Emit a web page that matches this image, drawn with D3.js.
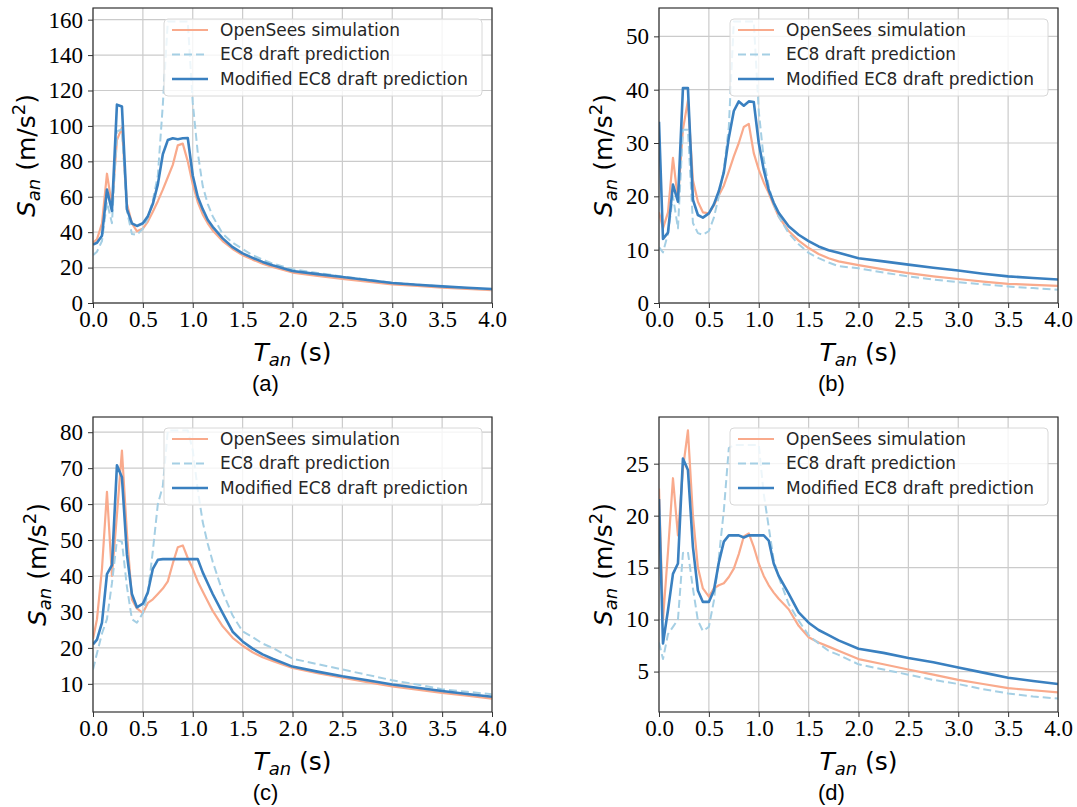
<!DOCTYPE html>
<html>
<head>
<meta charset="utf-8">
<script src="https://cdn.jsdelivr.net/npm/d3@7"></script>
<style>
  body { margin: 0; background: #fff; }
</style>
</head>
<body>
<div id="figure"></div>
<script>

// periods (s), shared by every curve
var periods = [0, 0.04, 0.09, 0.14, 0.19, 0.24, 0.29, 0.34, 0.39, 0.44,
  0.5, 0.55, 0.6, 0.65, 0.7, 0.75, 0.8, 0.85, 0.9, 0.95,
  1.0, 1.05, 1.1, 1.15, 1.2, 1.3, 1.4, 1.5, 1.6, 1.7,
  1.8, 2.0, 2.25, 2.5, 2.75, 3.0, 3.25, 3.5, 3.75, 4.0];

// (a)
var openSeesA = [34, 36, 45, 73, 55, 92, 99, 56, 45, 40.5,
  42, 46, 51.5, 57.5, 64, 71, 78, 89, 90, 80,
  67, 57, 50, 45, 41, 35, 30.5, 27, 24.5, 22.2,
  20.3, 17.2, 15.3, 13.6, 12, 10.5, 9.6, 8.7, 8, 7.3];
var ec8A = [27, 29, 35, 57, 45, 97, 98, 52, 39, 38.5,
  42, 48, 58, 72, 112, 159, 159, 159, 159, 159,
  113, 85, 66, 56, 49, 39, 34, 30.5, 27, 24.5,
  22.3, 19, 17, 15, 13.2, 11.5, 10.4, 9.3, 8.4, 7.5];
var modifiedA = [33, 34, 38, 64, 52, 112, 111, 53, 45, 43.5,
  45, 49, 56, 67, 84, 92, 93, 92.5, 93, 93.2,
  72, 60, 53, 47, 43, 36.5, 31.5, 28, 25.5, 23.2,
  21.3, 18.1, 16.3, 14.7, 13, 11.3, 10.3, 9.4, 8.6, 7.9];

// (b)
var openSeesB = [17, 14, 17, 27.2, 19.4, 32.5, 38, 23, 19, 17,
  16.8, 18.3, 20.2, 22, 24.7, 27.5, 30, 33, 33.6, 28.1,
  25, 22.6, 20.6, 18.3, 16.2, 13.5, 11.7, 10.3, 9.2, 8.4,
  7.8, 7.1, 6.3, 5.6, 5.0, 4.5, 4.0, 3.6, 3.4, 3.2];
var ec8B = [10.5, 9.5, 13, 20, 14, 32.5, 32.5, 15, 13.1, 12.8,
  13.5, 16, 20, 25, 33, 52.8, 52.8, 52.8, 52.8, 52.8,
  36, 27, 21.9, 18.5, 16.2, 13.1, 11, 9.4, 8.4, 7.6,
  6.9, 6.5, 5.7, 5.0, 4.4, 3.9, 3.5, 3.1, 2.8, 2.5];
var modifiedB = [34, 12, 13.2, 22.2, 19, 40.3, 40.3, 19.4, 16.5, 16,
  16.8, 18.5, 21, 24.5, 31, 36, 37.8, 37, 37.8, 37.7,
  30, 25, 21.2, 18.8, 16.9, 14.4, 12.8, 11.6, 10.6, 9.9,
  9.4, 8.4, 7.8, 7.2, 6.6, 6.1, 5.5, 5.0, 4.7, 4.4];

// (c)
var openSeesC = [22.5, 28, 42, 63.4, 40, 57, 74.9, 52, 33.5, 31,
  29.7, 32.5, 33.5, 35, 36.5, 38.5, 43.5, 48, 48.5, 45,
  42, 38.5, 35.7, 33, 30.3, 26, 22.8, 20.6, 18.8, 17.4,
  16.4, 14.4, 13, 11.7, 10.5, 9.3, 8.4, 7.5, 6.7, 5.9];
var ec8C = [14, 18.5, 24, 28, 38, 50, 49.5, 37, 28, 27,
  29.7, 35.2, 47, 60, 65, 80.5, 80.5, 80.5, 80.5, 80.5,
  75, 64, 55, 49, 44, 35.5, 29, 24.6, 23, 21.2,
  20, 17, 15.5, 14, 12.5, 11, 9.8, 8.5, 7.8, 7.1];
var modifiedC = [21, 22.3, 27, 40.5, 43, 70.8, 67.5, 46, 35, 31.3,
  32.3, 35.5, 42, 44.5, 44.7, 44.7, 44.7, 44.7, 44.7, 44.7,
  44.7, 44.7, 41, 38, 35, 29.7, 24.5, 21.8, 19.8, 18.2,
  17, 14.8, 13.4, 12.1, 11, 9.8, 8.9, 8.0, 7.2, 6.4];

// (d)
var openSeesD = [22.6, 10, 16.5, 23.6, 18.1, 24.5, 28.2, 20, 15, 13,
  12.2, 13, 13.3, 13.5, 14.1, 14.9, 16.3, 18, 18.3, 17,
  15.4, 14.2, 13.3, 12.6, 12, 11, 9.4, 8.3, 7.8, 7.4,
  7, 6.2, 5.7, 5.2, 4.7, 4.2, 3.8, 3.4, 3.2, 3.0];
var ec8D = [7.8, 6.2, 8.6, 9.3, 10, 16.4, 16.5, 13, 9.9, 8.9,
  9.3, 11.8, 16, 20.5, 26.5, 26.8, 26.8, 26.8, 26.8, 26.8,
  26.8, 22.1, 18.9, 15.7, 14.1, 11.5, 9.9, 8.5, 7.7, 7.0,
  6.6, 5.7, 5.2, 4.7, 4.2, 3.8, 3.3, 2.9, 2.6, 2.4];
var modifiedD = [21.6, 7.7, 10.9, 14.4, 15.4, 25.5, 24.4, 17, 12.8, 11.7,
  11.7, 12.8, 15.5, 17.5, 18.1, 18.1, 18.1, 17.9, 18.1, 18.1,
  18.1, 18.1, 17.6, 15.4, 14.2, 12.5, 10.7, 9.7, 9.0, 8.5,
  8.0, 7.2, 6.8, 6.3, 5.9, 5.4, 4.9, 4.4, 4.1, 3.8];

var xTicks = [0, 0.5, 1, 1.5, 2, 2.5, 3, 3.5, 4];
var yTicksA = [0, 20, 40, 60, 80, 100, 120, 140, 160];
var yTicksB = [0, 10, 20, 30, 40, 50];
var yTicksC = [10, 20, 30, 40, 50, 60, 70, 80];
var yTicksD = [5, 10, 15, 20, 25];

var seriesNames = ['OpenSees simulation', 'EC8 draft prediction', 'Modified EC8 draft prediction'];
var panelLabels = ['(a)', '(b)', '(c)', '(d)'];

var seriesStyle = [
  {color: '#f9aa8c', width: 2.2, dash: null},
  {color: '#a5cfe4', width: 2.0, dash: '8,4'},
  {color: '#3a80c0', width: 2.6, dash: null}
];

var SANS = "'DejaVu Sans'";
var SERIF = "'Liberation Serif'";
var ARIAL = "'Liberation Sans'";

var W = 1077, H = 807;
var plotW = 399, plotH = 295;

var svg = d3.select('#figure')
  .append('svg')
  .attr('width', W)
  .attr('height', H);

svg.append('rect').attr('width', W).attr('height', H).attr('fill', '#fff');

var panels = [
  {left: 93, top: 8, data: [openSeesA, ec8A, modifiedA], ticks: yTicksA, fromZero: true},
  {left: 659, top: 8, data: [openSeesB, ec8B, modifiedB], ticks: yTicksB, fromZero: true},
  {left: 93, top: 417, data: [openSeesC, ec8C, modifiedC], ticks: yTicksC, fromZero: false},
  {left: 659, top: 417, data: [openSeesD, ec8D, modifiedD], ticks: yTicksD, fromZero: false}
];

panels.forEach(function(p, k){ drawPanel(p, k); });

function font(sel, family, size){
  return sel.attr('font-family', family).attr('font-size', size)
    .style('font-family', family).style('font-size', size + 'px');
}

function drawPanel(p, k){

  var all = d3.merge(p.data);
  var lo = d3.min(all), hi = d3.max(all);
  var pad = 0.05 * (hi - lo);
  var y0 = p.fromZero ? 0 : lo - pad;

  var x = d3.scaleLinear().domain([0, 4]).range([0, plotW]);
  var y = d3.scaleLinear().domain([y0, hi + pad]).range([plotH, 0]);

  var g = svg.append('g')
    .attr('transform', 'translate(' + p.left + ',' + p.top + ')');

  g.append('clipPath')
    .attr('id', 'clip' + k)
    .append('rect')
    .attr('width', plotW)
    .attr('height', plotH);

  // grid
  g.selectAll('line.vgrid')
    .data(xTicks)
    .enter()
    .append('line')
    .attr('x1', function(d){ return x(d); })
    .attr('x2', function(d){ return x(d); })
    .attr('y1', 0)
    .attr('y2', plotH)
    .attr('stroke', '#cbcbcb')
    .attr('stroke-width', 1.2);

  g.selectAll('line.hgrid')
    .data(p.ticks)
    .enter()
    .append('line')
    .attr('x1', 0)
    .attr('x2', plotW)
    .attr('y1', function(d){ return y(d); })
    .attr('y2', function(d){ return y(d); })
    .attr('stroke', '#cbcbcb')
    .attr('stroke-width', 1.2);

  // curves
  var line = d3.line()
    .x(function(d, i){ return x(periods[i]); })
    .y(function(d){ return y(d); });

  var curves = g.append('g').attr('clip-path', 'url(#clip' + k + ')');
  p.data.forEach(function(values, s){
    curves.append('path')
      .datum(values)
      .attr('d', line)
      .attr('fill', 'none')
      .attr('stroke', seriesStyle[s].color)
      .attr('stroke-width', seriesStyle[s].width)
      .attr('stroke-dasharray', seriesStyle[s].dash)
      .attr('stroke-linejoin', 'round');
  });

  // axes
  var yAxis = g.append('g')
    .call(d3.axisLeft(y).tickValues(p.ticks).tickSize(5).tickPadding(5).tickFormat(d3.format('d')));
  var xAxis = g.append('g')
    .attr('transform', 'translate(0,' + plotH + ')')
    .call(d3.axisBottom(x).tickValues(xTicks).tickSize(5).tickPadding(3).tickFormat(d3.format('.1f')));

  [yAxis, xAxis].forEach(function(a){
    font(a, SERIF, 23);
    a.select('.domain').remove();
    a.selectAll('line').attr('stroke', '#333');
    font(a.selectAll('text'), SERIF, 23).attr('fill', '#000');
  });

  g.append('rect')
    .attr('width', plotW)
    .attr('height', plotH)
    .attr('fill', 'none')
    .attr('stroke', '#333')
    .attr('stroke-width', 1.2);

  // axis labels
  var xl = font(g.append('text'), SANS, 25)
    .attr('x', plotW / 2)
    .attr('y', plotH + 58)
    .attr('text-anchor', 'middle')
    .attr('fill', '#000');
  xl.append('tspan').text('T').attr('font-style', 'italic');
  xl.append('tspan').text('an').attr('font-style', 'italic').attr('font-size', 18).attr('dy', 5);
  xl.append('tspan').text(' (s)').attr('dy', -5);

  var left = yAxis.node().getBBox().x;
  var yl = font(g.append('text'), SANS, 25)
    .attr('transform', 'translate(' + (left - 14) + ',' + (plotH / 2) + ') rotate(-90)')
    .attr('text-anchor', 'middle')
    .attr('fill', '#000');
  yl.append('tspan').text('S').attr('font-style', 'italic');
  yl.append('tspan').text('an').attr('font-style', 'italic').attr('font-size', 18).attr('dy', 5);
  yl.append('tspan').text(' (m/s').attr('dy', -5);
  yl.append('tspan').text('2').attr('font-size', 18).attr('dy', -10);
  yl.append('tspan').text(')').attr('dy', 10);

  // panel caption
  font(g.append('text'), ARIAL, 22)
    .attr('x', plotW / 2 - 27)
    .attr('y', plotH + 88)
    .attr('text-anchor', 'middle')
    .attr('fill', '#000')
    .text(panelLabels[k]);

  // legend
  var lg = g.append('g').attr('transform', 'translate(71,11)');
  lg.append('rect')
    .attr('width', 318)
    .attr('height', 77)
    .attr('rx', 4)
    .attr('fill', '#fff')
    .attr('fill-opacity', 0.8)
    .attr('stroke', '#d8d8d8');

  var items = lg.selectAll('g.item')
    .data(seriesNames)
    .enter()
    .append('g')
    .attr('transform', function(d, i){ return 'translate(0,' + (11 + i * 24.5) + ')'; });

  items.append('line')
    .attr('x1', 8)
    .attr('x2', 44)
    .attr('stroke', function(d, i){ return seriesStyle[i].color; })
    .attr('stroke-width', function(d, i){ return seriesStyle[i].width; })
    .attr('stroke-dasharray', function(d, i){ return seriesStyle[i].dash; });

  font(items.append('text'), SANS, 17)
    .attr('x', 56)
    .attr('dy', '0.35em')
    .attr('fill', '#262626')
    .text(function(d){ return d; });
}

</script>
</body>
</html>
